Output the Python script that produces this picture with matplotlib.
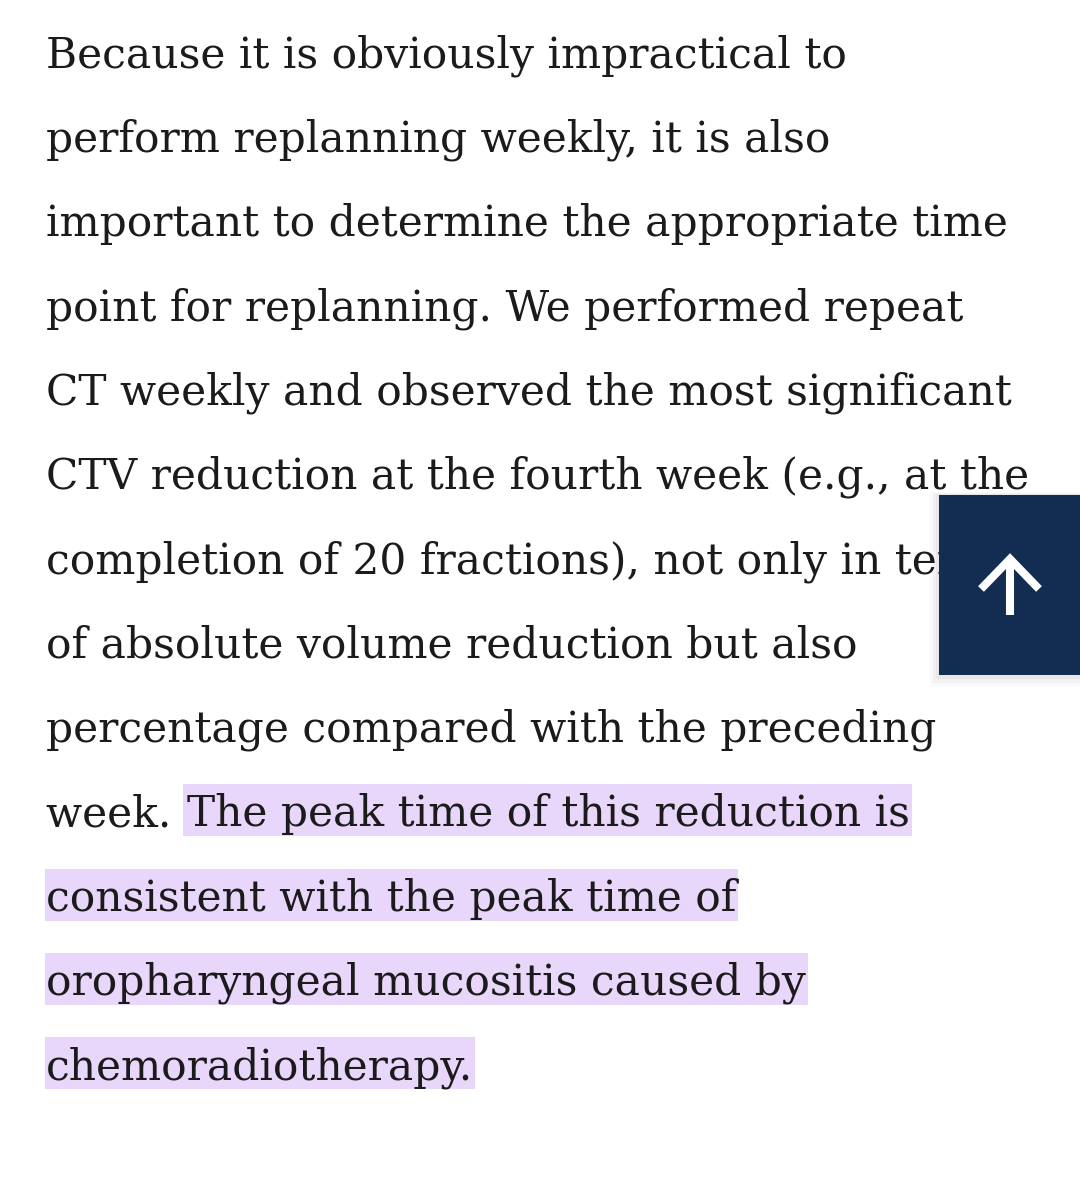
import matplotlib
matplotlib.use("Agg")
import matplotlib.pyplot as plt
from matplotlib.patches import Rectangle
from matplotlib import font_manager

W, H = 1080, 1183
plain_lines = [
    "Because it is obviously impractical to",
    "perform replanning weekly, it is also",
    "important to determine the appropriate time",
    "point for replanning. We performed repeat",
    "CT weekly and observed the most significant",
    "CTV reduction at the fourth week (e.g., at the",
    "completion of 20 fractions), not only in terms",
    "of absolute volume reduction but also",
    "percentage compared with the preceding",
    "week. ",
]
highlight_lines = [
    "The peak time of this reduction is",
    "consistent with the peak time of",
    "oropharyngeal mucositis caused by",
    "chemoradiotherapy.",
]

names = {f.name for f in font_manager.fontManager.ttflist}
family = "DejaVu Serif" if "DejaVu Serif" in names else "Liberation Serif"

fig = plt.figure(figsize=(W / 100, H / 100), dpi=100)
ax = fig.add_axes([0, 0, 1, 1])
ax.set_xlim(0, W)
ax.set_ylim(H, 0)
ax.axis("off")
fig.patch.set_facecolor("white")

renderer = fig.canvas.get_renderer()

probe = ax.text(0, 0, plain_lines[0], fontsize=20, family=family)
w20 = probe.get_window_extent(renderer).width
probe.remove()
fs = 20 * 799 / w20

x0 = 46
base0 = 67
step = 84.35
tcol = "#1b1b1b"
hcol = "#E9D6FB"

def px_width(s):
    t = ax.text(0, 0, s, fontsize=fs, family=family)
    w = t.get_window_extent(renderer).width
    t.remove()
    return w

n_plain = len(plain_lines)
for i, s in enumerate(plain_lines):
    y = base0 + step * i
    ax.text(x0, y, s, fontsize=fs, family=family, color=tcol, va="baseline", zorder=3)

for j, s in enumerate(highlight_lines):
    row = n_plain - 1 + j
    y = base0 + step * row
    if j == 0:
        xs, pad = 187, 4
    else:
        xs, pad = x0, 1
    wdt = px_width(s)
    ax.add_patch(Rectangle((xs - pad, y - 42), wdt + pad + 2, 52, facecolor=hcol,
                           edgecolor="none", zorder=1))
    ax.text(xs, y, s, fontsize=fs, family=family, color=tcol, va="baseline", zorder=3)

# back-to-top button with soft shadow
for k, a in enumerate([0.04, 0.03, 0.02]):
    d = 3 + 3 * k
    ax.add_patch(Rectangle((939 - d, 495 - d * 0.3), 141 + d, 180 + d * 1.6,
                           facecolor="black", alpha=a, edgecolor="none", zorder=4))
ax.add_patch(Rectangle((939, 495), 141, 180, facecolor="#132D52",
                       edgecolor="none", zorder=5))
ax.plot([1010, 1010], [557, 615], color="white", lw=5.8, solid_capstyle="butt", zorder=6)
ax.plot([981, 1010, 1039], [589, 559, 589], color="white", lw=5.8,
        solid_joinstyle="miter", solid_capstyle="butt", zorder=6)

fig.savefig("out.png", dpi=100, facecolor="white")
